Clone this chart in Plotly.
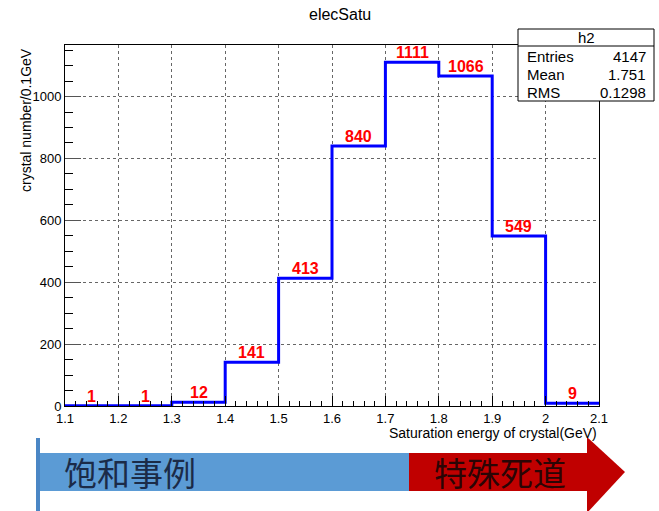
import plotly.graph_objects as go

# Histogram h2: saturation energy of crystals, 0.1 GeV bins
bin_edges = [1.1, 1.2, 1.3, 1.4, 1.5, 1.6, 1.7, 1.8, 1.9, 2.0, 2.1]
counts = [1, 1, 12, 141, 413, 840, 1111, 1066, 549, 9]
x_tick_vals = [1.1, 1.2, 1.3, 1.4, 1.5, 1.6, 1.7, 1.8, 1.9, 2.0, 2.1]
x_tick_text = ["1.1", "1.2", "1.3", "1.4", "1.5", "1.6", "1.7", "1.8", "1.9", "2", "2.1"]
y_tick_vals = [0, 200, 400, 600, 800, 1000]
stats_rows = [("Entries", "4147"), ("Mean", "1.751"), ("RMS", "0.1298")]
band_labels = ["饱和事例", "特殊死道"]

W, H = 659, 511
ML, MR, MT, MB = 65, 60, 45, 105
PW, PH = W - ML - MR, H - MT - MB

def px(x):
    return (x - ML) / PW

def py(y):
    return (H - MB - y) / PH

FONT = "Liberation Sans, Arial, sans-serif"

centers = [(a + b) / 2 for a, b in zip(bin_edges[:-1], bin_edges[1:])]
step_x = bin_edges[:-1] + [bin_edges[-1]]
step_y = counts + [counts[-1]]

fig = go.Figure()
fig.add_trace(go.Scatter(
    x=step_x, y=step_y, mode="lines", line=dict(color="#0000ff", width=3, shape="hv"),
    hoverinfo="skip", showlegend=False))

ymax = max(counts) * 1.05

fig.update_xaxes(
    range=[bin_edges[0], bin_edges[-1]], tickvals=x_tick_vals, ticktext=x_tick_text,
    ticks="inside", ticklen=10, tickcolor="black", showline=True, linecolor="black",
    linewidth=1, mirror=True, showgrid=True, gridcolor="#666", griddash="dot", gridwidth=1,
    zeroline=False, tickfont=dict(family=FONT, size=13, color="black"),
    minor=dict(dtick=0.02, ticks="inside", ticklen=5, tickcolor="black", showgrid=False))
fig.update_yaxes(
    range=[0, ymax], tickvals=y_tick_vals,
    ticks="inside", ticklen=16, tickcolor="#555", showline=True, linecolor="black",
    linewidth=1, mirror=True, showgrid=True, gridcolor="#666", griddash="dot", gridwidth=1,
    zeroline=False, tickfont=dict(family=FONT, size=13, color="black"),
    minor=dict(dtick=50, ticks="inside", ticklen=8, tickcolor="black", showgrid=False))

shapes = []
annotations = []

# Bin content labels above each bin
for cx, c in zip(centers, counts):
    annotations.append(dict(text=str(c), x=cx, y=c, xref="x", yref="y",
                            xanchor="center", yanchor="bottom", yshift=-1, showarrow=False,
                            font=dict(family=FONT, size=16, color="#ff0000", weight="bold")))

def label(text, x, y, size, xanchor="center", yanchor="middle", color="black",
          family=FONT, angle=0):
    annotations.append(dict(text=text, x=px(x), y=py(y), xref="paper", yref="paper",
                            xanchor=xanchor, yanchor=yanchor, textangle=angle,
                            showarrow=False, font=dict(family=family, size=size, color=color)))

# Title and axis titles
label("elecSatu", 340, 15, 16)
label("crystal number/0.1GeV", 26, 46, 14, yanchor="top", angle=-90)
label("Saturation energy of crystal(GeV)", 599, 433, 14, xanchor="right")

# Statistics box
bx0, bx1, by0, by1 = 518, 654, 29, 101
shapes.append(dict(type="rect", xref="paper", yref="paper", x0=px(bx0), x1=px(bx1),
                   y0=py(by1), y1=py(by0), fillcolor="white", line=dict(color="black", width=1),
                   layer="above"))
shapes.append(dict(type="line", xref="paper", yref="paper", x0=px(bx0), x1=px(bx1),
                   y0=py(46), y1=py(46), line=dict(color="black", width=1), layer="above"))
label("h2", (bx0 + bx1) / 2, 38, 15)
for i, (name, val) in enumerate(stats_rows):
    yy = 56 + i * 18
    label(name, 525, yy, 15, xanchor="left")
    label(val, 648, yy, 15, xanchor="right")

# Arrow band underneath the chart
blue, red = "#5b9bd5", "#c00000"
shapes.append(dict(type="rect", xref="paper", yref="paper", x0=px(36), x1=px(40),
                   y0=py(511), y1=py(438), fillcolor="#4a86c5", line=dict(width=0)))
shapes.append(dict(type="rect", xref="paper", yref="paper", x0=px(40), x1=px(409),
                   y0=py(491), y1=py(453), fillcolor=blue, line=dict(width=0)))
shapes.append(dict(type="rect", xref="paper", yref="paper", x0=px(409), x1=px(588),
                   y0=py(491), y1=py(453), fillcolor=red, line=dict(width=0)))
shapes.append(dict(type="path", xref="paper", yref="paper",
                   path=f"M {px(587)},{py(437)} L {px(625)},{py(472)} L {px(587)},{py(513)} Z",
                   fillcolor=red, line=dict(width=0)))
label(band_labels[0], 62, 472, 33, xanchor="left", color="#1b2b48", family="Noto Sans CJK SC")
label(band_labels[1], 432, 472, 33, xanchor="left", color="#2a0505", family="Noto Sans CJK SC")

fig.update_layout(
    width=W, height=H, margin=dict(l=ML, r=MR, t=MT, b=MB),
    paper_bgcolor="white", plot_bgcolor="white",
    shapes=shapes, annotations=annotations, showlegend=False,
    font=dict(family=FONT))

fig.write_html("out.html")
